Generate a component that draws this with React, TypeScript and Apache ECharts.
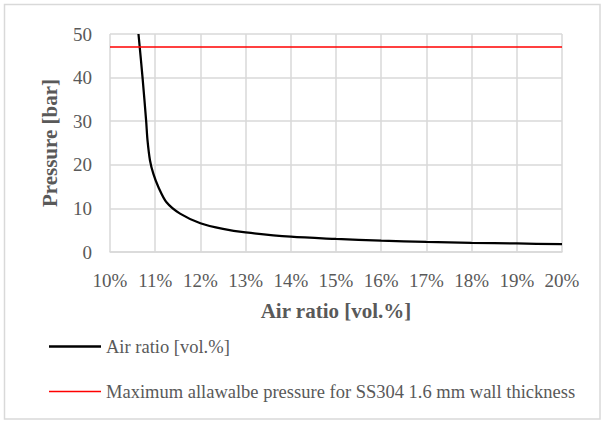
import React, { useEffect, useRef } from "react";
import * as echarts from "echarts";

const airRatio: number[] = [10.63, 10.72, 10.8, 10.83, 10.885, 10.96, 11.07, 11.25, 11.55, 12, 12.5, 13, 14, 15, 16, 17, 18, 19, 20];
const pressure: number[] = [50, 40, 30, 25.6, 21, 17.9, 14.9, 11.4, 8.8, 6.6, 5.3, 4.5, 3.5, 3.0, 2.6, 2.3, 2.1, 1.95, 1.8];
const limitX: number[] = [10, 20];
const limitY: number[] = [47, 47];
const seriesNames: string[] = ["Air ratio [vol.%]", "Maximum allawalbe pressure for SS304 1.6 mm wall thickness"];

const FONT = "Liberation Serif";
const GRAY = "#595959";

export default function App() {
  const ref = useRef<HTMLDivElement>(null);
  useEffect(() => {
    if (!ref.current) return;
    const chart = echarts.init(ref.current, undefined, { renderer: "svg" });
    chart.setOption({
      animation: false,
      backgroundColor: "#ffffff",
      textStyle: { fontFamily: FONT },
      graphic: [
        {
          type: "rect",
          shape: { x: 4.5, y: 4.5, width: 595.5, height: 414.5 },
          style: { fill: "none", stroke: "#d9d9d9", lineWidth: 1.5 },
          silent: true,
        },
      ],
      grid: { left: 110, right: 42, top: 34, bottom: 171 },
      legend: {
        orient: "vertical",
        left: 44,
        top: 332,
        itemWidth: 52,
        itemHeight: 14,
        itemGap: 26,
        textStyle: { fontFamily: FONT, fontSize: 18.5, color: GRAY },
        data: [
          { name: seriesNames[0], icon: "path://M0,0 L52,0 L52,2.5 L0,2.5 Z", itemStyle: { color: "#000000" } },
          { name: seriesNames[1], icon: "path://M0,0 L52,0 L52,1.5 L0,1.5 Z", itemStyle: { color: "#ff0000" } },
        ],
      },
      xAxis: {
        type: "value",
        min: 10,
        max: 20,
        interval: 1,
        name: "Air ratio [vol.%]",
        nameLocation: "middle",
        nameGap: 48,
        nameTextStyle: { fontFamily: FONT, fontSize: 21, fontWeight: "bold", color: GRAY },
        axisLine: { show: true, lineStyle: { color: "#d9d9d9", width: 1.5 } },
        axisTick: { show: false },
        axisLabel: { fontFamily: FONT, fontSize: 19, color: GRAY, margin: 19, formatter: "{value}%" },
        splitLine: { show: true, lineStyle: { color: "#d9d9d9", width: 1.5 } },
      },
      yAxis: {
        type: "value",
        min: 0,
        max: 50,
        interval: 10,
        name: "Pressure [bar]",
        nameLocation: "middle",
        nameRotate: 90,
        nameGap: 50,
        nameTextStyle: { fontFamily: FONT, fontSize: 21, fontWeight: "bold", color: GRAY },
        axisLine: { show: false },
        axisTick: { show: false },
        axisLabel: { fontFamily: FONT, fontSize: 19, color: GRAY, margin: 18 },
        splitLine: { show: true, lineStyle: { color: "#d9d9d9", width: 1.5 } },
      },
      series: [
        {
          name: seriesNames[0],
          type: "line",
          data: airRatio.map((x, i) => [x, pressure[i]]),
          smooth: 0.3,
          showSymbol: false,
          symbol: "none",
          lineStyle: { color: "#000000", width: 2.25 },
          itemStyle: { color: "#000000" },
          clip: true,
        },
        {
          name: seriesNames[1],
          type: "line",
          data: limitX.map((x, i) => [x, limitY[i]]),
          showSymbol: false,
          symbol: "none",
          lineStyle: { color: "#ff0000", width: 1.5 },
          itemStyle: { color: "#ff0000" },
        },
      ],
    });
    return () => chart.dispose();
  }, []);
  return (
    <>
      <style>{".chart-host svg text { font-family: 'Liberation Serif', serif !important; }"}</style>
      <div className="chart-host" ref={ref} style={{ position: "fixed", left: 0, top: 0, width: 604, height: 423 }} />
    </>
  );
}
